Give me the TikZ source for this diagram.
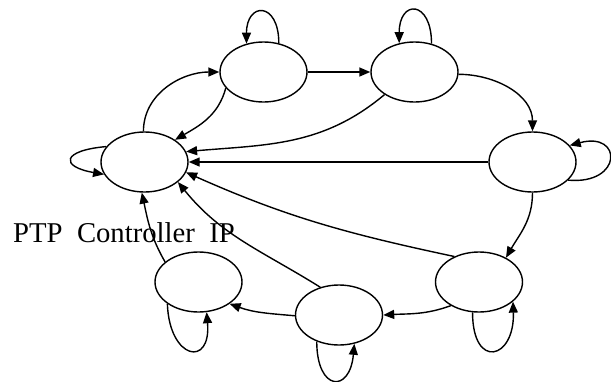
\documentclass[tikz,border=0pt]{standalone}
\usepackage{fontspec}
\setmainfont{Liberation Serif}
\usetikzlibrary{shapes.geometric,arrows.meta}
\begin{document}
\begin{tikzpicture}[x=1pt,y=1pt,
  state/.style={ellipse,draw,line width=1.4pt,minimum width=87pt,minimum height=60pt,inner sep=0pt},
  edge/.style={line width=1.4pt,-{Triangle[length=11pt,width=9pt]}},
  lbltext/.style={anchor=base west,inner sep=0pt,font=\fontsize{28.7}{30}\selectfont}
]
\useasboundingbox (0,0) rectangle (611,-381);
\node[state] (A) at (144.5,-162) {};
\node[state] (B) at (263.5,-72) {};
\node[state] (C) at (414.5,-72) {};
\node[state] (D) at (532.5,-162) {};
\node[state] (E) at (479,-282) {};
\node[state] (F) at (339,-315) {};
\node[state] (G) at (198.5,-282) {};
\node[lbltext] (lbl) at (13,-242) {PTP\ \ Controller\ \ IP};

\draw[edge] (A.92) to[out=90,in=180] (B.west);
\draw[edge] (B.-157) to[out=-105,in=30] (A.36);
\draw[edge] (B.east) -- (C.west);
\draw[edge] (C.217) to[out=-140,in=5] (A.14);
\draw[edge] (D.west) -- (A.east);
\draw[edge] (C.-3) to[out=0,in=90] (D.north);
\draw[edge] (D.-27) .. controls +(-5:55) and +(15:55) .. (D.24);
\draw[edge] (A.158) .. controls +(185:45) and +(170:45) .. (A.197);
\draw[edge] (B.62) .. controls +(90:42) and +(90:42) .. (B.121);
\draw[edge] (C.59) .. controls +(90:44) and +(90:44) .. (C.118);
\draw[edge] (D.south) to[out=-90,in=60] (E.42);
\draw[edge] (E.134) to[out=168,in=-24] (A.-14.5);
\draw[edge] (E.220) to[out=200,in=3] (F.east);
\draw[edge] (F.124) to[out=148,in=-51] (A.-31);
\draw[edge] (F.181) to[out=175,in=-20] (G.-35);
\draw[edge] (G.149) to[out=120,in=-78] (A.-95);
\draw[edge] (G.215) .. controls +(-88:56) and +(-85:56) .. (G.-75);
\draw[edge] (E.-102) .. controls +(-90:58) and +(-88:58) .. (E.-30);
\draw[edge] (F.-130) .. controls +(-90:50) and +(-95:50) .. (F.-62);
\end{tikzpicture}
\end{document}
